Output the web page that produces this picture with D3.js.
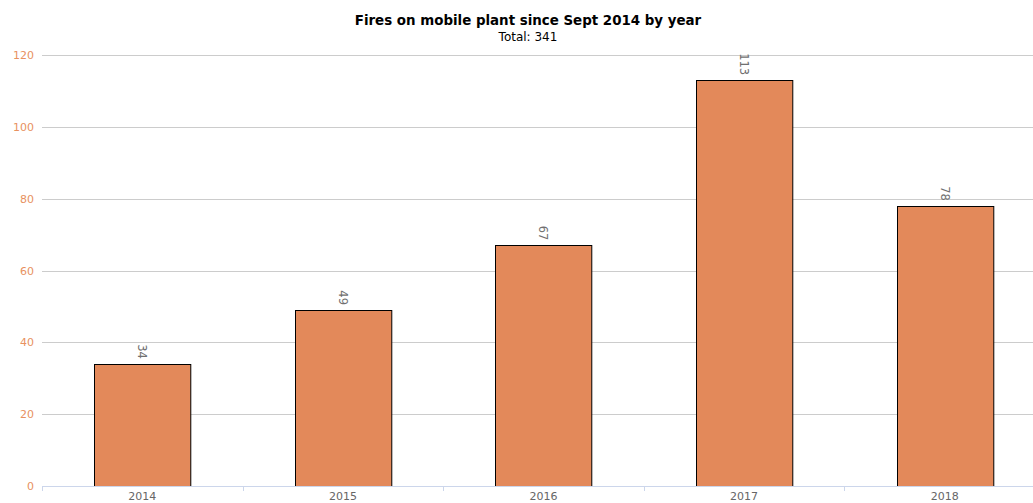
<!DOCTYPE html>
<html>
<head>
<meta charset="utf-8">
<script src="https://cdn.jsdelivr.net/npm/d3@7"></script>
<style>
  body { margin: 0; background: #fff; }
  text { font-family: "DejaVu Sans", sans-serif; }
</style>
</head>
<body>
<div id="chart"></div>
<script>
const years = ["2014", "2015", "2016", "2017", "2018"];
const fires = [34, 49, 67, 113, 78];
const yTicks = [0, 20, 40, 60, 80, 100, 120];
const title = "Fires on mobile plant since Sept 2014 by year";
const subtitle = "Total: 341";

const width = 1033, height = 503;
const plotLeft = 42, plotRight = 1045, plotTop = 55, plotBottom = 486;

const svg = d3.select("#chart").append("svg")
  .attr("width", width).attr("height", height);

const x = d3.scaleBand().domain(years).range([plotLeft, plotRight]).paddingInner(0.52).paddingOuter(0.26);
const xb = d3.scaleBand().domain(years).range([plotLeft, plotRight]);
const y = d3.scaleLinear().domain([0, 120]).range([plotBottom, plotTop]);

// grid
svg.append("g").selectAll("line").data(yTicks.slice(1)).join("line")
  .attr("x1", plotLeft).attr("x2", width)
  .attr("y1", d => Math.round(y(d)) + 0.5).attr("y2", d => Math.round(y(d)) + 0.5)
  .attr("stroke", "#cccccc");

// y labels
svg.append("g").selectAll("text").data(yTicks).join("text")
  .attr("x", 34).attr("y", d => y(d) + 4)
  .attr("text-anchor", "end")
  .attr("font-size", 11)
  .attr("fill", "#e8915f")
  .text(d => d);

// bars
svg.append("g").selectAll("rect").data(fires).join("rect")
  .attr("x", (d, i) => Math.round(x(years[i])) + 0.5)
  .attr("y", d => Math.round(y(d)) + 0.5)
  .attr("width", x.bandwidth())
  .attr("height", d => Math.round(y(0)) - Math.round(y(d)))
  .attr("fill", "#e3895a")
  .attr("stroke", "#000")
  .attr("stroke-width", 1);

// value labels (rotated)
svg.append("g").selectAll("text").data(fires).join("text")
  .attr("transform", (d, i) => `translate(${x(years[i]) + x.bandwidth() / 2},${y(d) - 5}) rotate(90)`)
  .attr("text-anchor", "end")
  .attr("dy", "0.35em")
  .attr("font-size", 11.5)
  .attr("fill", "#707070")
  .text(d => d);

// x axis
svg.append("line")
  .attr("x1", plotLeft).attr("x2", width)
  .attr("y1", plotBottom + 0.5).attr("y2", plotBottom + 0.5)
  .attr("stroke", "#ccd6eb");
svg.append("g").selectAll("line").data(years).join("line")
  .attr("x1", d => Math.round(xb(d)) + 0.5).attr("x2", d => Math.round(xb(d)) + 0.5)
  .attr("y1", plotBottom).attr("y2", plotBottom + 5)
  .attr("stroke", "#ccd6eb");
svg.append("g").selectAll("text").data(years).join("text")
  .attr("x", d => x(d) + x.bandwidth() / 2)
  .attr("y", 500)
  .attr("text-anchor", "middle")
  .attr("font-size", 11)
  .attr("fill", "#666666")
  .text(d => d);

// titles
svg.append("text").attr("x", 528).attr("y", 25)
  .attr("text-anchor", "middle").attr("font-size", 13.4).attr("font-weight", "bold")
  .attr("fill", "#000").text(title);
svg.append("text").attr("x", 528).attr("y", 41)
  .attr("text-anchor", "middle").attr("font-size", 12)
  .attr("fill", "#000").text(subtitle);
</script>
</body>
</html>
